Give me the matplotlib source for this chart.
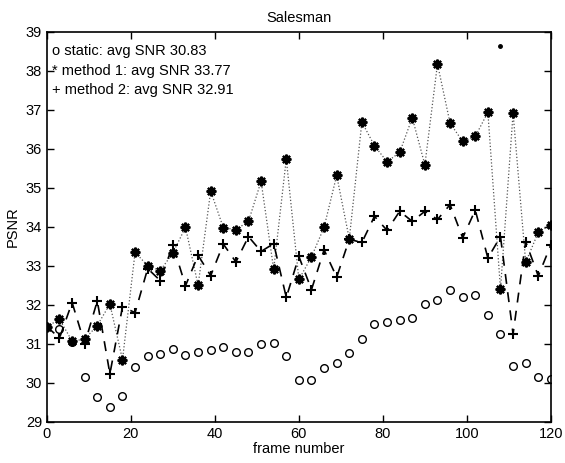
import matplotlib
matplotlib.use("Agg")
import matplotlib.pyplot as plt
import numpy as np

plt.rcParams['font.family'] = ['Liberation Sans', 'DejaVu Sans']

# frame numbers (every 3rd frame)
frames = list(range(0, 121, 3))

static = [31.44, 31.38, 31.05, 30.16, 29.63, 29.39, 29.65, 30.40, 30.69, 30.73,
          30.86, 30.71, 30.79, 30.85, 30.92, 30.78, 30.78, 31.00, 31.02, 30.69,
          30.08, 30.06, 30.38, 30.50, 30.76, 31.12, 31.52, 31.56, 31.61, 31.66,
          32.02, 32.12, 32.38, 32.21, 32.26, 31.75, 31.26, 30.44, 30.50, 30.16,
          30.09]
method1 = [31.44, 31.63, 31.07, 31.12, 31.47, 32.02, 30.59, 33.35, 33.00, 32.88,
           33.33, 33.99, 32.50, 34.92, 33.98, 33.93, 34.14, 35.17, 32.91, 35.74,
           32.65, 33.23, 33.99, 35.32, 33.69, 36.69, 36.08, 35.67, 35.91, 36.80,
           35.59, 38.18, 36.66, 36.19, 36.32, 36.94, 32.40, 36.92, 33.09, 33.86,
           34.05]
method2 = [31.44, 31.15, 32.06, 31.00, 32.10, 30.23, 31.95, 31.80, 32.93, 32.62,
           33.54, 32.49, 33.27, 32.75, 33.56, 33.10, 33.75, 33.37, 33.57, 32.19,
           33.24, 32.39, 33.41, 32.71, 33.68, 33.60, 34.27, 33.91, 34.40, 34.14,
           34.40, 34.19, 34.57, 33.72, 34.43, 33.20, 33.75, 31.26, 33.62, 32.74,
           33.54]
# stray dot in the scan
stray_x = [107.8]
stray_y = [38.64]

legend_lines = ['o static: avg SNR 30.83',
                '* method 1: avg SNR 33.77',
                '+ method 2: avg SNR 32.91']

fig = plt.figure(figsize=(5.65, 4.63), dpi=100)
ax = fig.add_axes([0.083, 0.089, 0.892, 0.842])

ax.plot(frames, method1, linestyle=':', color='#555555', linewidth=0.9,
        marker=(8, 2, 0), markersize=7, markeredgewidth=1.6,
        markeredgecolor='black', markerfacecolor='black')
ax.plot(frames, method2, linestyle=(0, (6, 5)), color='black', linewidth=1.2,
        marker='+', markersize=7, markeredgewidth=1.5)
ax.plot(frames, static, linestyle='none', marker='o', markersize=5.5,
        markerfacecolor='none', markeredgecolor='black', markeredgewidth=1.0)
ax.plot(stray_x, stray_y, linestyle='none', marker='o', markersize=2.5,
        color='black')

ax.set_xlim(0, 120)
ax.set_ylim(29, 39)
ax.set_xticks(np.arange(0, 121, 20))
ax.set_yticks(np.arange(29, 40, 1))
ax.tick_params(direction='in', top=True, right=True, length=5, width=1,
               labelsize=10.5)
for s in ax.spines.values():
    s.set_linewidth(1.2)

ax.set_title('Salesman', fontsize=10.5, pad=7)
ax.set_xlabel('frame number', fontsize=10.5, labelpad=1)
ax.set_ylabel('PSNR', fontsize=10.5, labelpad=4)

ys = [38.5, 38.0, 37.52]
for txt, y in zip(legend_lines, ys):
    ax.text(1.1, y, txt, fontsize=10.5, va='center', ha='left')

fig.savefig('out.png', dpi=100)
